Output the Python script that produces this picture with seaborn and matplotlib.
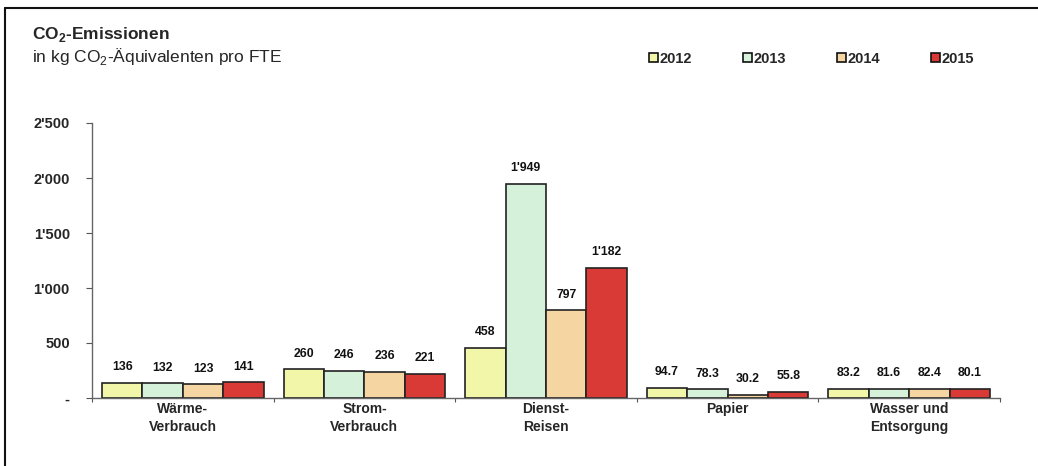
import matplotlib
matplotlib.use("Agg")
import matplotlib.pyplot as plt
import seaborn as sns
import pandas as pd
from matplotlib.patches import Patch
from matplotlib.lines import Line2D
from matplotlib.ticker import FuncFormatter, FixedLocator

categories = ["Wärme-\nVerbrauch", "Strom-\nVerbrauch", "Dienst-\nReisen", "Papier", "Wasser und\nEntsorgung"]
years = ["2012", "2013", "2014", "2015"]
v2012 = [136, 260, 458, 94.7, 83.2]
v2013 = [132, 246, 1949, 78.3, 81.6]
v2014 = [123, 236, 797, 30.2, 82.4]
v2015 = [141, 221, 1182, 55.8, 80.1]
yticks = [0, 500, 1000, 1500, 2000, 2500]
colors = ["#f2f6a8", "#d6f1da", "#f5d6a2", "#d93a35"]

series = {"2012": v2012, "2013": v2013, "2014": v2014, "2015": v2015}
rows = []
for y in years:
    for c, v in zip(categories, series[y]):
        rows.append({"Kategorie": c, "Jahr": y, "Wert": v})
df = pd.DataFrame(rows)

sns.set_theme(style="white")
plt.rcParams["font.family"] = ["Liberation Sans", "DejaVu Sans"]
plt.rcParams["mathtext.fontset"] = "custom"
plt.rcParams["mathtext.rm"] = "Liberation Sans"
plt.rcParams["mathtext.bf"] = "Liberation Sans:bold"

fig = plt.figure(figsize=(10.38, 4.66), dpi=100)
ax = fig.add_axes([92/1038, 1-398/466, (1000-92)/1038, (398-123)/466])

sns.barplot(data=df, x="Kategorie", y="Wert", hue="Jahr", order=categories,
            hue_order=years, palette=colors, width=0.89, edgecolor="#222222",
            linewidth=1.2, ax=ax, legend=False, saturation=1)

def fmt_val(v):
    if v >= 100:
        return f"{int(round(v)):,}".replace(",", "'")
    return f"{v:.1f}"

for cont, y in zip(ax.containers, years):
    ax.bar_label(cont, labels=[fmt_val(v) for v in series[y]], padding=7,
                 fontsize=8.8, fontweight="bold", color="#111111")

ax.set_ylim(0, 2500)
ax.set_xlim(-0.5, 4.5)
ax.yaxis.set_major_locator(FixedLocator(yticks))
ax.yaxis.set_major_formatter(FuncFormatter(lambda v, p: "-" if v == 0 else f"{int(v):,}".replace(",", "'")))
ax.tick_params(axis="y", which="major", direction="out", length=4, width=0.8,
               color="#555555", labelsize=10.5, pad=12, left=True)
for lab in ax.get_yticklabels():
    lab.set_fontweight("bold")
ax.tick_params(axis="x", which="major", length=0, labelsize=10, pad=3)
for lab in ax.get_xticklabels():
    lab.set_fontweight("bold")
    lab.set_linespacing(1.35)
ax.set_xticks([-0.5, 0.5, 1.5, 2.5, 3.5, 4.5], minor=True)
ax.tick_params(axis="x", which="minor", direction="out", length=3, width=0.8,
               color="#555555", bottom=True)
ax.set_xlabel("")
ax.set_ylabel("")
sns.despine(ax=ax)
for s in ["left", "bottom"]:
    ax.spines[s].set_color("#666666")
    ax.spines[s].set_linewidth(1.0)

fig.text(32/1038, 1-39/466, r"CO$_\mathbf{2}$-Emissionen", fontsize=12.5, fontweight="bold",
         ha="left", va="baseline")
fig.text(32/1038, 1-62/466, r"in kg CO$_2$-Äquivalenten pro FTE", fontsize=12.5,
         ha="left", va="baseline")

handles = [Patch(facecolor=c, edgecolor="#111111", linewidth=1.2) for c in colors]
leg = fig.legend(handles, years, loc="center left", bbox_to_anchor=(636/1038, 1-59/466),
                 ncol=4, frameon=False, handlelength=0.6, handleheight=0.6,
                 handletextpad=0.12, columnspacing=3.5, prop={"weight": "bold", "size": 10.5})

fig.add_artist(Line2D([5/1038, 5/1038], [0, 1-8/466], color="#111111", linewidth=1.5))
fig.add_artist(Line2D([5/1038, 1], [1-8/466, 1-8/466], color="#111111", linewidth=1.5))

fig.savefig("out.png", dpi=100)
